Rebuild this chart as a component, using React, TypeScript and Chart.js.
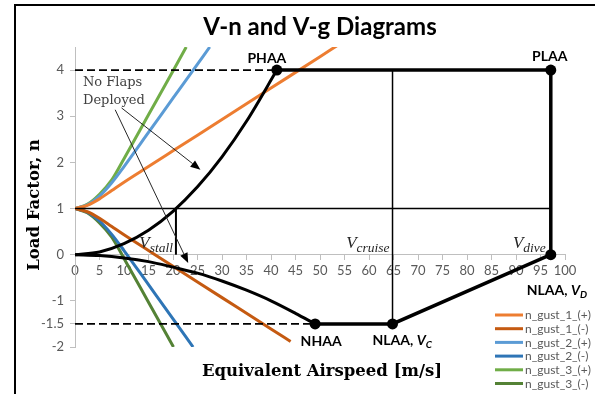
import { useEffect, useRef } from "react";
import { Chart, registerables } from "chart.js";

Chart.register(...registerables);

// ---- V-n diagram: equivalent airspeed (m/s) vs load factor n ----
const stallPosV = [0, 5, 10, 15, 20, 25, 30, 35, 41.2];
const stallPosN = [0, 0.06, 0.24, 0.53, 0.94, 1.47, 2.12, 2.89, 4.0];
const stallNegV = [0, 5, 10, 15, 20, 25, 30, 35, 40, 45, 49];
const stallNegN = [0, -0.02, -0.07, -0.15, -0.27, -0.4, -0.57, -0.77, -1.0, -1.27, -1.5];

// Envelope corners: PHAA, PLAA, V_D, NLAA (V_C), NHAA
const envelopeV = [41.2, 97.1, 97.1, 64.8, 49];
const envelopeN = [4, 4, 0, -1.5, -1.5];

// Reference speeds and limit load factors
const vStall = 20.6;
const vCruise = 64.8;
const vDive = 97.1;
const nPosLimit = 4;
const nNegLimit = -1.5;

// ---- V-g diagram: gust load lines ----
const gust1PosV = [0, 2.5, 5, 7.5, 10, 15, 20, 30, 40, 50, 53.5];
const gust1PosN = [1, 1.07, 1.21, 1.39, 1.57, 1.91, 2.25, 2.93, 3.61, 4.29, 4.53];
const gust1NegV = [0, 2.5, 5, 7.5, 10, 15, 20, 30, 40, 44];
const gust1NegN = [1, 0.93, 0.79, 0.61, 0.43, 0.09, -0.25, -0.93, -1.61, -1.88];
const gust2PosV = [0, 2.5, 5, 7.5, 10, 15, 20, 25, 27.5];
const gust2PosN = [1, 1.08, 1.27, 1.56, 1.91, 2.65, 3.39, 4.13, 4.5];
const gust2NegV = [0, 2.5, 5, 7.5, 10, 15, 20, 24.1];
const gust2NegN = [1, 0.92, 0.73, 0.44, 0.09, -0.65, -1.39, -2.0];
const gust3PosV = [0, 2.5, 5, 7.5, 10, 15, 20, 22.7];
const gust3PosN = [1, 1.09, 1.31, 1.62, 2.08, 3.03, 3.98, 4.5];
const gust3NegV = [0, 2.5, 5, 7.5, 10, 15, 20.1];
const gust3NegN = [1, 0.91, 0.69, 0.38, -0.08, -1.03, -2.0];

const gustLabels = ["n_gust_1_(+)", "n_gust_1_(-)", "n_gust_2_(+)", "n_gust_2_(-)", "n_gust_3_(+)", "n_gust_3_(-)"];
const gustColors = ["#ED7D31", "#C55A11", "#5B9BD5", "#2E75B6", "#70AD47", "#548235"];

// Axis ticks
const yTicks = [-2, -1.5, -1, 0, 1, 2, 3, 4];

// Annotation arrows (from text to curves), data units
const arrowFromV = [9.5, 8.2];
const arrowFromN = [3.18, 3.14];
const arrowToV = [25.6, 23.1];
const arrowToN = [1.84, -0.18];

const pts = (xs: number[], ys: number[]) => xs.map((x, i) => ({ x, y: ys[i] }));

const gustData = [
  pts(gust1PosV, gust1PosN),
  pts(gust1NegV, gust1NegN),
  pts(gust2PosV, gust2PosN),
  pts(gust2NegV, gust2NegN),
  pts(gust3PosV, gust3PosN),
  pts(gust3NegV, gust3NegN),
];

const TICK_COLOR = "#595959";
const AXIS_COLOR = "#BFBFBF";

function drawArrow(ctx: CanvasRenderingContext2D, x1: number, y1: number, x2: number, y2: number) {
  const a = Math.atan2(y2 - y1, x2 - x1);
  const L = 10;
  const W = 4;
  const bx = x2 - L * Math.cos(a);
  const by = y2 - L * Math.sin(a);
  ctx.beginPath();
  ctx.moveTo(x1, y1);
  ctx.lineTo(bx, by);
  ctx.stroke();
  ctx.beginPath();
  ctx.moveTo(x2, y2);
  ctx.lineTo(bx + W * Math.sin(a), by - W * Math.cos(a));
  ctx.lineTo(bx - W * Math.sin(a), by + W * Math.cos(a));
  ctx.closePath();
  ctx.fill();
}

// Italic math-style speed label, right-aligned at xRight
function drawSpeedLabel(ctx: CanvasRenderingContext2D, sub: string, xRight: number, baseline: number) {
  const mainFont = "italic 17px 'Liberation Serif'";
  const subFont = "italic 13.5px 'Liberation Serif'";
  ctx.font = mainFont;
  const w1 = ctx.measureText("V").width;
  ctx.font = subFont;
  const w2 = ctx.measureText(sub).width;
  const x0 = xRight - w1 - w2;
  ctx.textAlign = "left";
  ctx.textBaseline = "alphabetic";
  ctx.font = mainFont;
  ctx.fillText("V", x0, baseline);
  ctx.font = subFont;
  ctx.fillText(sub, x0 + w1, baseline + 4);
}

// Bold point name, optionally followed by a bold-italic V with subscript
function drawPointLabel(
  ctx: CanvasRenderingContext2D,
  name: string,
  sub: string | null,
  x: number,
  baseline: number,
  align: "left" | "center"
) {
  const nameFont = "bold 14px Lato";
  const vFont = "italic bold 14px Lato";
  const sFont = "italic bold 10px Lato";
  ctx.textBaseline = "alphabetic";
  ctx.textAlign = "left";
  ctx.font = nameFont;
  const w0 = ctx.measureText(name).width;
  let total = w0;
  let w1 = 0;
  if (sub) {
    ctx.font = vFont;
    w1 = ctx.measureText("V").width;
    ctx.font = sFont;
    total += w1 + ctx.measureText(sub).width;
  }
  const x0 = align === "center" ? x - total / 2 : x;
  ctx.font = nameFont;
  ctx.fillText(name, x0, baseline);
  if (sub) {
    ctx.font = vFont;
    ctx.fillText("V", x0 + w0, baseline);
    ctx.font = sFont;
    ctx.fillText(sub, x0 + w0 + w1, baseline + 3);
  }
}

const decorations = {
  id: "decorations",
  beforeDraw(chart: any) {
    const { ctx, width, height } = chart;
    ctx.save();
    ctx.fillStyle = "#ffffff";
    ctx.fillRect(0, 0, width, height);
    ctx.strokeStyle = "#000000";
    ctx.lineWidth = 2;
    ctx.strokeRect(15, 5, width + 40, height + 40);
    ctx.restore();
  },
  afterDatasetsDraw(chart: any) {
    const { ctx } = chart;
    const xs = chart.scales.x;
    const ys = chart.scales.y;
    const px = (v: number) => xs.getPixelForValue(v);
    const py = (n: number) => ys.getPixelForValue(n);
    ctx.save();

    // Arrows from the "No Flaps Deployed" note
    ctx.strokeStyle = "#262626";
    ctx.fillStyle = "#000000";
    ctx.lineWidth = 1;
    for (let i = 0; i < arrowFromV.length; i++) {
      drawArrow(ctx, px(arrowFromV[i]), py(arrowFromN[i]), px(arrowToV[i]), py(arrowToN[i]));
    }

    // Note text
    ctx.fillStyle = "#404040";
    ctx.font = "13px 'DejaVu Serif'";
    ctx.textAlign = "left";
    ctx.textBaseline = "alphabetic";
    ctx.fillText("No Flaps", px(1.63), py(3.66));
    ctx.fillText("Deployed", px(1.63), py(3.66) + 18);

    // Speed labels
    ctx.fillStyle = "#262626";
    drawSpeedLabel(ctx, "stall", px(vStall) - 3, py(0) - 7);
    drawSpeedLabel(ctx, "cruise", px(vCruise) - 3, py(0) - 7);
    drawSpeedLabel(ctx, "dive", px(vDive) - 5, py(0) - 7);

    // Envelope point names
    ctx.fillStyle = "#000000";
    drawPointLabel(ctx, "PHAA", null, px(envelopeV[0]) - 10, py(envelopeN[0]) - 7, "center");
    drawPointLabel(ctx, "PLAA", null, px(envelopeV[1]) - 1, py(envelopeN[1]) - 9, "center");
    drawPointLabel(ctx, "NLAA, ", "D", px(envelopeV[2]) - 24, py(envelopeN[2]) + 40, "left");
    drawPointLabel(ctx, "NLAA, ", "C", px(envelopeV[3]) - 20, py(envelopeN[3]) + 21, "left");
    drawPointLabel(ctx, "NHAA", null, px(envelopeV[4]) + 6, py(envelopeN[4]) + 22, "center");

    // Axis titles
    ctx.fillStyle = "#000000";
    ctx.font = "bold 16.5px 'DejaVu Serif'";
    ctx.textAlign = "center";
    ctx.textBaseline = "middle";
    ctx.fillText("Equivalent Airspeed [m/s]", 322, 372);
    ctx.save();
    ctx.translate(35, 205);
    ctx.rotate(-Math.PI / 2);
    ctx.fillText("Load Factor, n", 0, 0);
    ctx.restore();

    // Legend for gust lines
    const gustSets = chart.data.datasets.filter((d: any) => d.isGust);
    ctx.font = "12px Lato";
    ctx.textAlign = "left";
    ctx.textBaseline = "middle";
    gustSets.forEach((d: any, i: number) => {
      const y = 315 + i * 13.7;
      ctx.strokeStyle = d.borderColor;
      ctx.lineWidth = 3;
      ctx.beginPath();
      ctx.moveTo(495, y);
      ctx.lineTo(523, y);
      ctx.stroke();
      ctx.fillStyle = TICK_COLOR;
      ctx.fillText(d.label, 525, y + 0.5);
    });
    ctx.restore();
  },
};

const blackLine = (data: { x: number; y: number }[], width: number, extra: any = {}) => ({
  data,
  showLine: true,
  borderColor: "#000000",
  borderWidth: width,
  pointRadius: 0,
  fill: false,
  ...extra,
});

export default function App() {
  const ref = useRef<HTMLCanvasElement>(null);

  useEffect(() => {
    if (!ref.current) return;
    const datasets: any[] = [
      // markers on envelope corners
      {
        data: pts(envelopeV, envelopeN),
        showLine: false,
        pointRadius: 5.5,
        pointBackgroundColor: "#000000",
        pointBorderWidth: 0,
      },
      blackLine(pts(envelopeV, envelopeN), 3.5),
      blackLine(pts(stallPosV, stallPosN), 3, { cubicInterpolationMode: "monotone" }),
      blackLine(pts(stallNegV, stallNegN), 3, { cubicInterpolationMode: "monotone" }),
      blackLine(pts([0, envelopeV[0]], [nPosLimit, nPosLimit]), 1.8, { borderDash: [8, 4] }),
      blackLine(pts([0, envelopeV[4]], [nNegLimit, nNegLimit]), 1.8, { borderDash: [8, 4] }),
      blackLine(pts([0, vDive], [1, 1]), 1.5),
      blackLine(pts([vStall, vStall], [0, 1]), 2),
      blackLine(pts([vCruise, vCruise], [nNegLimit, nPosLimit]), 1.5),
    ];
    gustData.forEach((data, i) => {
      datasets.push({
        label: gustLabels[i],
        isGust: true,
        data,
        showLine: true,
        borderColor: gustColors[i],
        backgroundColor: gustColors[i],
        borderWidth: 3,
        pointRadius: 0,
        cubicInterpolationMode: "monotone",
      });
    });

    const chart = new Chart(ref.current, {
      type: "scatter",
      data: { datasets },
      options: {
        responsive: false,
        animation: false,
        events: [],
        layout: { padding: { top: 4, left: 0, right: 30, bottom: 47 } },
        plugins: {
          legend: { display: false },
          tooltip: { enabled: false },
          title: {
            display: true,
            text: "V-n and V-g Diagrams",
            fullSize: false,
            color: "#000000",
            font: { family: "Lato", size: 24, weight: "bold" },
            padding: { top: 9, bottom: 5.2 },
          },
        },
        scales: {
          x: {
            type: "linear",
            min: 0,
            max: 100,
            position: { y: 0 },
            afterFit: (s: any) => {
              s.height = 0;
            },
            ticks: {
              stepSize: 5,
              autoSkip: false,
              maxRotation: 0,
              color: TICK_COLOR,
              font: { family: "Lato", size: 13 },
              padding: 3,
              callback: (v: any) => String(v),
            },
            grid: { drawOnChartArea: false, drawTicks: true, tickLength: 5, color: AXIS_COLOR },
            border: { display: true, color: AXIS_COLOR, width: 1 },
          },
          y: {
            type: "linear",
            min: -2,
            max: 4.5,
            position: "left",
            afterFit: (s: any) => {
              s.width = 75;
            },
            afterBuildTicks: (s: any) => {
              s.ticks = yTicks.map((value) => ({ value }));
            },
            ticks: {
              color: TICK_COLOR,
              font: { family: "Lato", size: 13 },
              padding: 6,
              callback: (v: any) => String(v),
            },
            grid: { drawOnChartArea: false, drawTicks: true, tickLength: 5, color: AXIS_COLOR },
            border: { display: true, color: AXIS_COLOR, width: 1 },
          },
        },
      },
      plugins: [decorations],
    } as any);
    return () => chart.destroy();
  }, []);

  return (
    <div style={{ position: "absolute", left: 0, top: 0, width: 595, height: 394 }}>
      <canvas ref={ref} width={595} height={394} style={{ display: "block" }} />
    </div>
  );
}
